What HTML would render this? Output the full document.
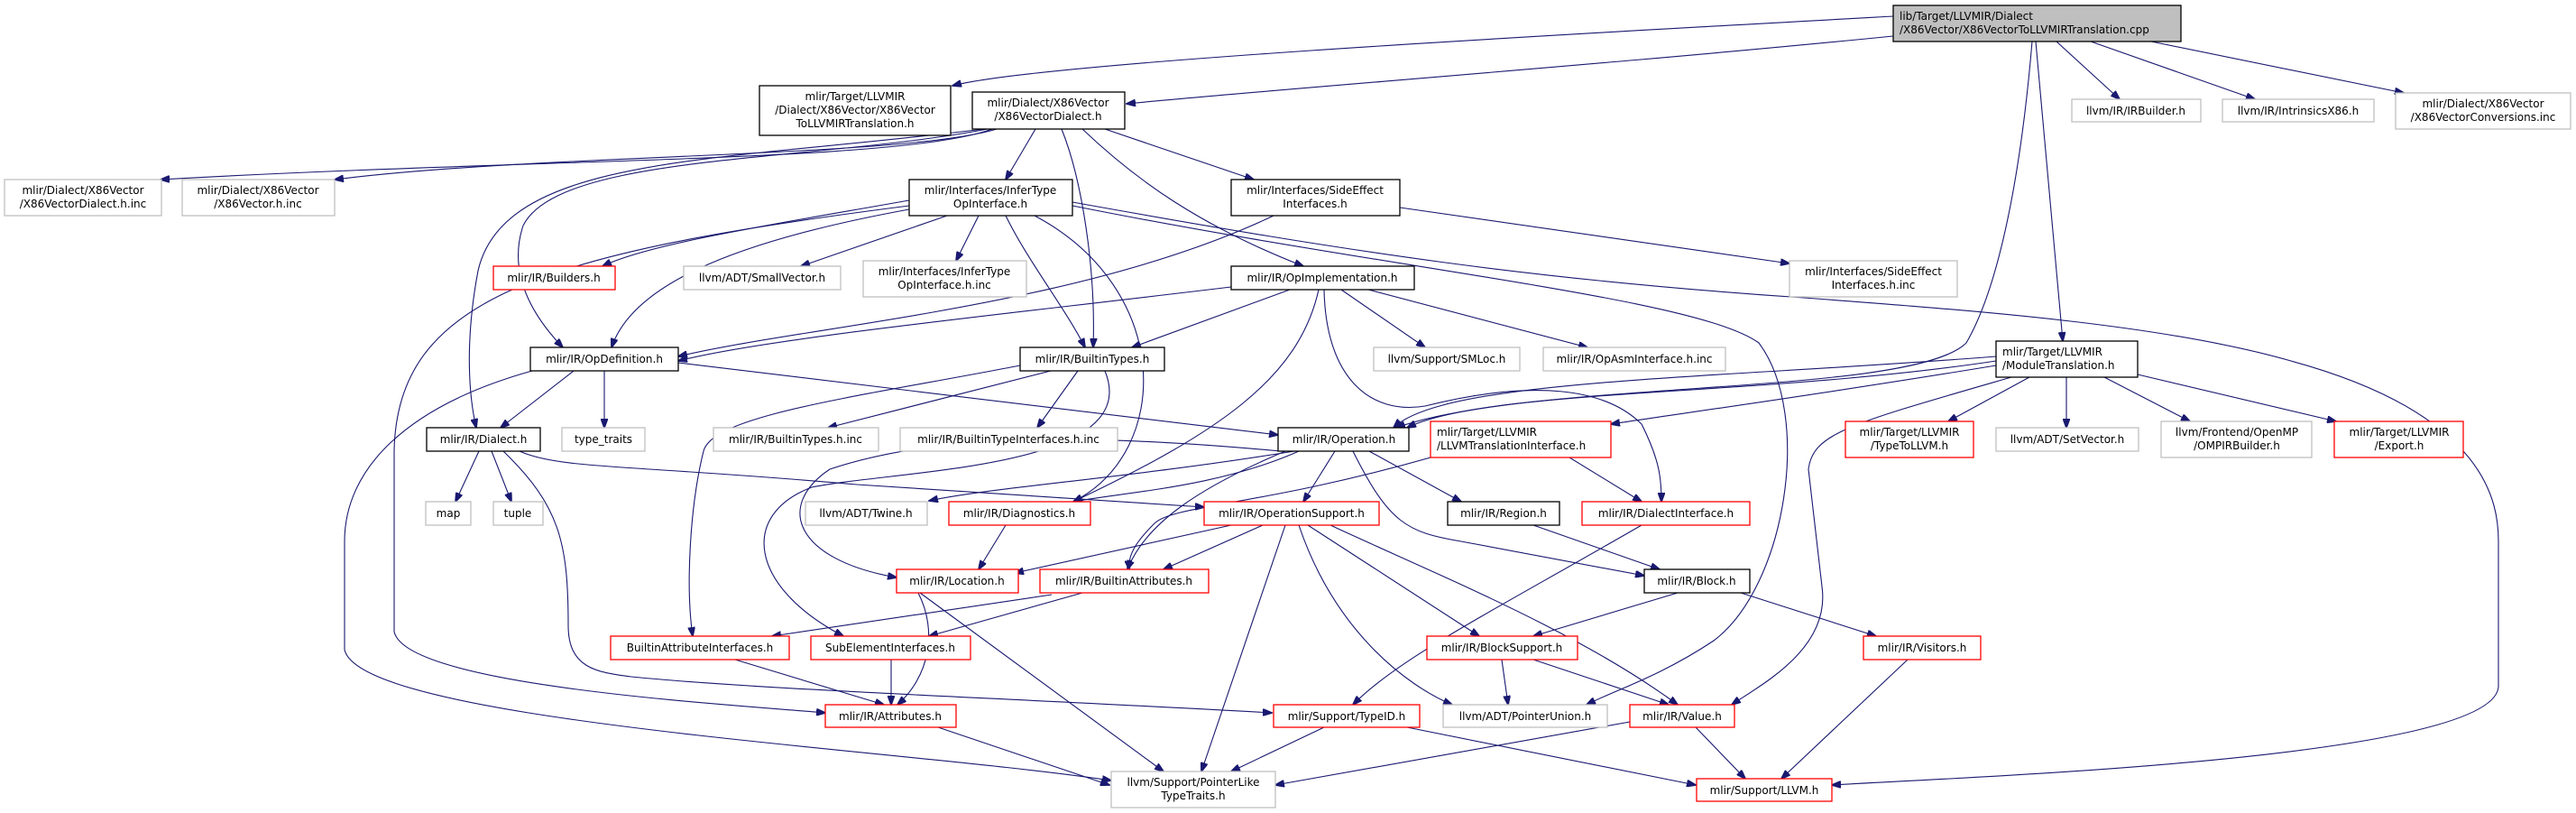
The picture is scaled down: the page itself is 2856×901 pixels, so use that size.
<!DOCTYPE html>
<html><head><meta charset="utf-8"><style>
html,body{margin:0;padding:0;background:#fff;}
svg{display:block;}
text{font-family:"DejaVu Sans","Liberation Sans",sans-serif;font-size:12px;fill:#000;}
.b{fill:#fff;stroke:#000;stroke-width:1.3}
.g{fill:#fff;stroke:#bfbfbf;stroke-width:1.3}
.r{fill:#fff;stroke:#ff0000;stroke-width:1.3}
.e{fill:none;stroke:#191970;stroke-width:1.1}
</style></head><body>
<svg width="2856" height="901" viewBox="0 0 2856 901" xmlns="http://www.w3.org/2000/svg">
<defs><marker id="a" markerWidth="11" markerHeight="8" refX="10" refY="4" orient="auto" markerUnits="userSpaceOnUse"><path d="M0,0 L11,4 L0,8 z" fill="#191970" stroke="#191970"/></marker></defs>
<g class="e">
<path marker-end="url(#a)" d="M2099 18 C1700 40 1150 70 1056 95"/>
<path marker-end="url(#a)" d="M2099 40 C1800 70 1400 100 1249 115"/>
<path marker-end="url(#a)" d="M2280 46 L2350 110"/>
<path marker-end="url(#a)" d="M2318 46 L2500 110"/>
<path marker-end="url(#a)" d="M2385 46 L2665 103"/>
<path marker-end="url(#a)" d="M2257 46 L2287 378"/>
<path marker-end="url(#a)" d="M2253 46 C2240 200 2215 320 2180 380 C2120 440 1700 420 1548 474"/>
<path marker-end="url(#a)" d="M1100 143 C1000 180 600 175 178 199"/>
<path marker-end="url(#a)" d="M1105 143 C1000 175 600 170 371 199"/>
<path marker-end="url(#a)" d="M1148 143 L1115 199"/>
<path marker-end="url(#a)" d="M1177 143 C1200 200 1215 300 1212 385"/>
<path marker-end="url(#a)" d="M1200 143 C1260 200 1330 250 1445 295"/>
<path marker-end="url(#a)" d="M1225 143 L1390 199"/>
<path marker-end="url(#a)" d="M1095 143 C900 180 620 170 580 250 C560 310 600 360 624 385"/>
<path marker-end="url(#a)" d="M1090 143 C800 180 560 170 530 300 C515 380 520 440 528 474"/>
<path marker-end="url(#a)" d="M1008 222 C850 250 720 270 668 295"/>
<path marker-end="url(#a)" d="M1050 239 L888 295"/>
<path marker-end="url(#a)" d="M1085 239 L1060 289"/>
<path marker-end="url(#a)" d="M1008 232 C800 270 700 320 678 385"/>
<path marker-end="url(#a)" d="M1115 239 C1140 290 1180 340 1203 385"/>
<path marker-end="url(#a)" d="M1008 228 C600 280 440 330 437 500 L437 700 C450 760 800 780 915 790"/>
<path marker-end="url(#a)" d="M1147 239 C1300 320 1300 500 1190 556"/>
<path marker-end="url(#a)" d="M1189 228 C1550 300 1880 330 1950 380 C2010 460 1980 650 1900 710 C1840 750 1790 765 1759 781"/>
<path marker-end="url(#a)" d="M1189 224 C1500 280 1700 310 2000 330 C2200 345 2400 360 2540 400 C2760 460 2770 560 2770 600 L2770 760 C2770 840 2200 860 2031 870"/>
<path marker-end="url(#a)" d="M1552 230 L1984 292"/>
<path marker-end="url(#a)" d="M1412 239 C1200 340 900 360 752 395"/>
<path marker-end="url(#a)" d="M1365 318 C1100 350 850 375 752 400"/>
<path marker-end="url(#a)" d="M1430 321 L1255 385"/>
<path marker-end="url(#a)" d="M1487 321 L1580 385"/>
<path marker-end="url(#a)" d="M1517 321 L1760 385"/>
<path marker-end="url(#a)" d="M1462 321 C1440 420 1350 480 1190 556"/>
<path marker-end="url(#a)" d="M1468 321 C1470 420 1520 460 1580 450 C1700 420 1780 430 1820 470 C1840 510 1842 530 1842 556"/>
<path marker-end="url(#a)" d="M636 411 L555 474"/>
<path marker-end="url(#a)" d="M670 411 L670 474"/>
<path marker-end="url(#a)" d="M752 402 L1417 482"/>
<path marker-end="url(#a)" d="M590 411 C450 450 382 520 382 600 L382 720 C400 800 1000 830 1232 865"/>
<path marker-end="url(#a)" d="M1165 411 L918 474"/>
<path marker-end="url(#a)" d="M1195 411 L1150 474"/>
<path marker-end="url(#a)" d="M1131 405 C950 440 790 460 780 500 C765 560 760 650 768 705"/>
<path marker-end="url(#a)" d="M1225 411 C1270 520 1000 520 900 540 C820 570 830 650 935 705"/>
<path marker-end="url(#a)" d="M2213 395 C1900 420 1600 420 1545 474"/>
<path marker-end="url(#a)" d="M2213 400 C1950 440 1650 430 1560 474"/>
<path marker-end="url(#a)" d="M2213 405 C2000 440 1850 460 1786 470"/>
<path marker-end="url(#a)" d="M2250 418 L2160 467"/>
<path marker-end="url(#a)" d="M2291 418 L2291 474"/>
<path marker-end="url(#a)" d="M2333 418 L2428 467"/>
<path marker-end="url(#a)" d="M2370 415 L2590 467"/>
<path marker-end="url(#a)" d="M2230 418 C2050 470 2010 480 2005 520 L2020 650 C2030 720 1950 760 1920 781"/>
<path marker-end="url(#a)" d="M531 500 L505 556"/>
<path marker-end="url(#a)" d="M545 500 L567 556"/>
<path marker-end="url(#a)" d="M576 500 C620 520 700 515 950 537 L1335 562"/>
<path marker-end="url(#a)" d="M558 500 C620 560 630 600 630 693 C630 740 660 745 700 750 C850 765 1150 775 1410 790"/>
<path marker-end="url(#a)" d="M1435 500 C1250 530 1100 540 1030 555"/>
<path marker-end="url(#a)" d="M1440 500 C1350 540 1250 545 1190 556"/>
<path marker-end="url(#a)" d="M1480 500 L1445 556"/>
<path marker-end="url(#a)" d="M1518 500 L1620 556"/>
<path marker-end="url(#a)" d="M1500 500 C1540 580 1560 590 1620 600 L1823 638"/>
<path marker-end="url(#a)" d="M1425 500 C1330 540 1270 580 1250 631"/>
<path marker-end="url(#a)" d="M1420 500 C1200 480 1040 480 920 520 C860 560 880 620 994 640"/>
<path marker-end="url(#a)" d="M1740 507 L1820 556"/>
<path marker-end="url(#a)" d="M1586 507 C1400 560 1300 560 1280 580 C1260 600 1250 615 1252 631"/>
<path marker-end="url(#a)" d="M1365 582 L1125 635"/>
<path marker-end="url(#a)" d="M1400 582 L1290 631"/>
<path marker-end="url(#a)" d="M1425 582 L1332 855"/>
<path marker-end="url(#a)" d="M1440 582 C1480 700 1560 760 1610 781"/>
<path marker-end="url(#a)" d="M1450 582 L1640 705"/>
<path marker-end="url(#a)" d="M1475 582 C1600 640 1750 700 1860 781"/>
<path marker-end="url(#a)" d="M1700 582 L1840 631"/>
<path marker-end="url(#a)" d="M1820 582 C1650 680 1550 730 1500 781"/>
<path marker-end="url(#a)" d="M1115 582 L1085 631"/>
<path marker-end="url(#a)" d="M1018 657 C1040 700 1030 750 995 781"/>
<path marker-end="url(#a)" d="M1020 657 L1290 855"/>
<path marker-end="url(#a)" d="M1166 659 L856 705"/>
<path marker-end="url(#a)" d="M1200 657 L1030 705"/>
<path marker-end="url(#a)" d="M1860 657 L1700 705"/>
<path marker-end="url(#a)" d="M1930 657 L2080 705"/>
<path marker-end="url(#a)" d="M815 731 L980 781"/>
<path marker-end="url(#a)" d="M988 731 L988 781"/>
<path marker-end="url(#a)" d="M1665 731 L1672 781"/>
<path marker-end="url(#a)" d="M1700 731 L1850 781"/>
<path marker-end="url(#a)" d="M2115 731 L1975 863"/>
<path marker-end="url(#a)" d="M1040 806 L1230 870"/>
<path marker-end="url(#a)" d="M1468 806 L1365 855"/>
<path marker-end="url(#a)" d="M1560 806 L1880 870"/>
<path marker-end="url(#a)" d="M1807 800 L1414 870"/>
<path marker-end="url(#a)" d="M1880 806 L1935 863"/>
</g>

<rect x="2099" y="6" width="319" height="40" fill="#bfbfbf" stroke="#000" stroke-width="1.3"/>
<text x="2106" y="22">lib/Target/LLVMIR/Dialect</text>
<text x="2106" y="37">/X86Vector/X86VectorToLLVMIRTranslation.cpp</text>

<rect class="b" x="842" y="95" width="212" height="55"/>
<text x="948" y="111" text-anchor="middle">mlir/Target/LLVMIR</text>
<text x="948" y="126" text-anchor="middle">/Dialect/X86Vector/X86Vector</text>
<text x="948" y="141" text-anchor="middle">ToLLVMIRTranslation.h</text>

<rect class="b" x="1078" y="102" width="169" height="41"/>
<text x="1162" y="118" text-anchor="middle">mlir/Dialect/X86Vector</text>
<text x="1162" y="133" text-anchor="middle">/X86VectorDialect.h</text>

<rect class="g" x="2297" y="110" width="143" height="25"/><text x="2368" y="127" text-anchor="middle">llvm/IR/IRBuilder.h</text>
<rect class="g" x="2464" y="110" width="168" height="25"/><text x="2548" y="127" text-anchor="middle">llvm/IR/IntrinsicsX86.h</text>
<rect class="g" x="2656" y="103" width="194" height="40"/>
<text x="2753" y="119" text-anchor="middle">mlir/Dialect/X86Vector</text>
<text x="2753" y="134" text-anchor="middle">/X86VectorConversions.inc</text>

<rect class="g" x="5" y="199" width="174" height="40"/>
<text x="92" y="215" text-anchor="middle">mlir/Dialect/X86Vector</text>
<text x="92" y="230" text-anchor="middle">/X86VectorDialect.h.inc</text>
<rect class="g" x="202" y="199" width="169" height="40"/>
<text x="286" y="215" text-anchor="middle">mlir/Dialect/X86Vector</text>
<text x="286" y="230" text-anchor="middle">/X86Vector.h.inc</text>
<rect class="b" x="1008" y="199" width="181" height="40"/>
<text x="1098" y="215" text-anchor="middle">mlir/Interfaces/InferType</text>
<text x="1098" y="230" text-anchor="middle">OpInterface.h</text>
<rect class="b" x="1365" y="199" width="187" height="40"/>
<text x="1458" y="215" text-anchor="middle">mlir/Interfaces/SideEffect</text>
<text x="1458" y="230" text-anchor="middle">Interfaces.h</text>

<rect class="r" x="547" y="295" width="135" height="26"/><text x="614" y="312" text-anchor="middle">mlir/IR/Builders.h</text>
<rect class="g" x="758" y="295" width="174" height="26"/><text x="845" y="312" text-anchor="middle">llvm/ADT/SmallVector.h</text>
<rect class="g" x="957" y="289" width="181" height="40"/>
<text x="1047" y="305" text-anchor="middle">mlir/Interfaces/InferType</text>
<text x="1047" y="320" text-anchor="middle">OpInterface.h.inc</text>
<rect class="b" x="1365" y="295" width="203" height="26"/><text x="1466" y="312" text-anchor="middle">mlir/IR/OpImplementation.h</text>
<rect class="g" x="1984" y="289" width="186" height="40"/>
<text x="2077" y="305" text-anchor="middle">mlir/Interfaces/SideEffect</text>
<text x="2077" y="320" text-anchor="middle">Interfaces.h.inc</text>

<rect class="b" x="588" y="385" width="164" height="26"/><text x="670" y="402" text-anchor="middle">mlir/IR/OpDefinition.h</text>
<rect class="b" x="1131" y="385" width="160" height="26"/><text x="1211" y="402" text-anchor="middle">mlir/IR/BuiltinTypes.h</text>
<rect class="g" x="1523" y="385" width="162" height="26"/><text x="1604" y="402" text-anchor="middle">llvm/Support/SMLoc.h</text>
<rect class="g" x="1711" y="385" width="202" height="26"/><text x="1812" y="402" text-anchor="middle">mlir/IR/OpAsmInterface.h.inc</text>
<rect class="b" x="2213" y="378" width="157" height="40"/>
<text x="2220" y="394">mlir/Target/LLVMIR</text>
<text x="2220" y="409">/ModuleTranslation.h</text>

<rect class="b" x="473" y="474" width="126" height="26"/><text x="536" y="491" text-anchor="middle">mlir/IR/Dialect.h</text>
<rect class="g" x="623" y="474" width="92" height="26"/><text x="669" y="491" text-anchor="middle">type_traits</text>
<rect class="g" x="791" y="474" width="183" height="26"/><text x="882" y="491" text-anchor="middle">mlir/IR/BuiltinTypes.h.inc</text>
<rect class="g" x="998" y="474" width="241" height="26"/><text x="1118" y="491" text-anchor="middle">mlir/IR/BuiltinTypeInterfaces.h.inc</text>
<rect class="b" x="1417" y="474" width="145" height="26"/><text x="1490" y="491" text-anchor="middle">mlir/IR/Operation.h</text>
<rect class="r" x="1586" y="467" width="200" height="40"/>
<text x="1593" y="483">mlir/Target/LLVMIR</text>
<text x="1593" y="498">/LLVMTranslationInterface.h</text>
<rect class="r" x="2046" y="467" width="142" height="40"/>
<text x="2117" y="483" text-anchor="middle">mlir/Target/LLVMIR</text>
<text x="2117" y="498" text-anchor="middle">/TypeToLLVM.h</text>
<rect class="g" x="2213" y="474" width="158" height="26"/><text x="2292" y="491" text-anchor="middle">llvm/ADT/SetVector.h</text>
<rect class="g" x="2396" y="467" width="167" height="40"/>
<text x="2480" y="483" text-anchor="middle">llvm/Frontend/OpenMP</text>
<text x="2480" y="498" text-anchor="middle">/OMPIRBuilder.h</text>
<rect class="r" x="2588" y="467" width="143" height="40"/>
<text x="2660" y="483" text-anchor="middle">mlir/Target/LLVMIR</text>
<text x="2660" y="498" text-anchor="middle">/Export.h</text>

<rect class="g" x="472" y="556" width="50" height="26"/><text x="497" y="573" text-anchor="middle">map</text>
<rect class="g" x="547" y="556" width="55" height="26"/><text x="574" y="573" text-anchor="middle">tuple</text>
<rect class="g" x="893" y="556" width="135" height="26"/><text x="960" y="573" text-anchor="middle">llvm/ADT/Twine.h</text>
<rect class="r" x="1052" y="556" width="157" height="26"/><text x="1130" y="573" text-anchor="middle">mlir/IR/Diagnostics.h</text>
<rect class="r" x="1335" y="556" width="194" height="26"/><text x="1432" y="573" text-anchor="middle">mlir/IR/OperationSupport.h</text>
<rect class="b" x="1605" y="556" width="124" height="26"/><text x="1667" y="573" text-anchor="middle">mlir/IR/Region.h</text>
<rect class="r" x="1754" y="556" width="186" height="26"/><text x="1847" y="573" text-anchor="middle">mlir/IR/DialectInterface.h</text>

<rect class="r" x="994" y="631" width="135" height="26"/><text x="1061" y="648" text-anchor="middle">mlir/IR/Location.h</text>
<rect class="r" x="1153" y="631" width="187" height="26"/><text x="1246" y="648" text-anchor="middle">mlir/IR/BuiltinAttributes.h</text>
<rect class="b" x="1823" y="631" width="117" height="26"/><text x="1881" y="648" text-anchor="middle">mlir/IR/Block.h</text>

<rect class="r" x="677" y="705" width="198" height="26"/><text x="776" y="722" text-anchor="middle">BuiltinAttributeInterfaces.h</text>
<rect class="r" x="899" y="705" width="177" height="26"/><text x="987" y="722" text-anchor="middle">SubElementInterfaces.h</text>
<rect class="r" x="1582" y="705" width="167" height="26"/><text x="1665" y="722" text-anchor="middle">mlir/IR/BlockSupport.h</text>
<rect class="r" x="2066" y="705" width="130" height="26"/><text x="2131" y="722" text-anchor="middle">mlir/IR/Visitors.h</text>

<rect class="r" x="915" y="781" width="145" height="25"/><text x="987" y="798" text-anchor="middle">mlir/IR/Attributes.h</text>
<rect class="r" x="1412" y="781" width="162" height="25"/><text x="1493" y="798" text-anchor="middle">mlir/Support/TypeID.h</text>
<rect class="g" x="1600" y="781" width="182" height="25"/><text x="1691" y="798" text-anchor="middle">llvm/ADT/PointerUnion.h</text>
<rect class="r" x="1807" y="781" width="116" height="25"/><text x="1865" y="798" text-anchor="middle">mlir/IR/Value.h</text>

<rect class="g" x="1232" y="855" width="182" height="40"/>
<text x="1323" y="871" text-anchor="middle">llvm/Support/PointerLike</text>
<text x="1323" y="886" text-anchor="middle">TypeTraits.h</text>
<rect class="r" x="1881" y="863" width="150" height="25"/><text x="1956" y="880" text-anchor="middle">mlir/Support/LLVM.h</text>
</svg>
</body></html>
